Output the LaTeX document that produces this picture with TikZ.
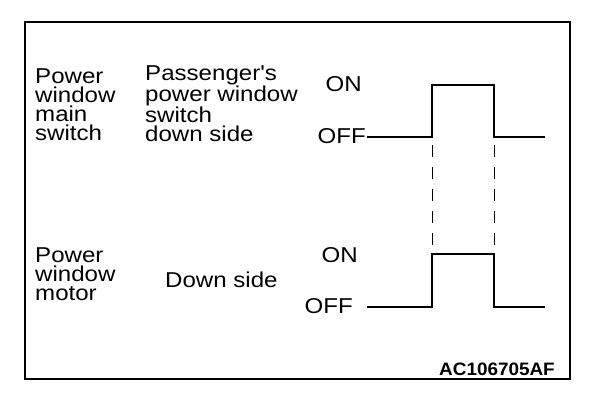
\documentclass[tikz,border=0pt]{standalone}
\usepackage{fontspec}
\newfontfamily\lblfont{Liberation Sans}[FakeStretch=1.12]
\newfontfamily\codefont{Liberation Sans}[FakeStretch=1.05]
\begin{document}
\begin{tikzpicture}[x=1pt,y=-1pt,
  lbl/.style={inner sep=0pt, font=\lblfont\fontsize{21.5}{18.8}\selectfont, align=left},
  frameline/.style={line width=2.5pt},
  signal/.style={line width=2.7pt, line join=miter},
  guide/.style={line width=1pt, dash pattern=on 12pt off 10pt}]
\useasboundingbox (0,0) rectangle (608,408);
\draw[frameline] (25,22) rectangle (570,379);
% labels (base anchor = baseline of last line)
\node[lbl, anchor=base west] (mainsw) at (35,140) {Power\\window\\main\\switch};
\node[lbl, anchor=base west] (pass) at (145,141) {Passenger's\\power window\\switch\\down side};
\node[lbl, anchor=base west] (motor) at (35,300) {Power\\window\\motor};
\node[lbl, anchor=base west] (down) at (165,287) {Down side};
\node[lbl, anchor=base east] (onA) at (362,91) {ON};
\node[lbl, anchor=base east] (offA) at (366,143) {OFF};
\node[lbl, anchor=base east] (onB) at (358,262) {ON};
\node[lbl, anchor=base east] (offB) at (353,313) {OFF};
\node[inner sep=0pt, anchor=base east, font=\codefont\bfseries\fontsize{18}{20}\selectfont] (code) at (555,375) {AC106705AF};
% waveform coordinates
\coordinate (a0) at (367,137);
\coordinate (a1) at (432,137);
\coordinate (a2) at (432,85);
\coordinate (a3) at (494,85);
\coordinate (a4) at (494,137);
\coordinate (a5) at (545,137);
\coordinate (b0) at (367,307);
\coordinate (b1) at (432,307);
\coordinate (b2) at (432,254);
\coordinate (b3) at (494,254);
\coordinate (b4) at (494,307);
\coordinate (b5) at (545,307);
\draw[signal] (a0) -- (a1) -- (a2) -- (a3) -- (a4) -- (a5);
\draw[signal] (b0) -- (b1) -- (b2) -- (b3) -- (b4) -- (b5);
% guide lines
\coordinate (g1) at (432,145);
\coordinate (g2) at (494,145);
\draw[guide] (g1) -- (b2);
\draw[guide] (g2) -- (b3);
\end{tikzpicture}
\end{document}
